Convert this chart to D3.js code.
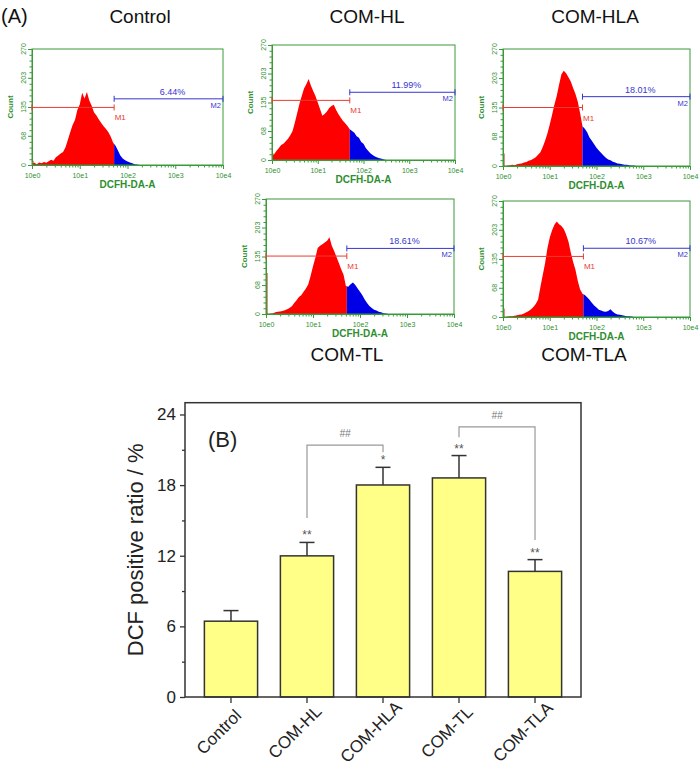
<!DOCTYPE html>
<html><head><meta charset="utf-8">
<script src="https://cdn.jsdelivr.net/npm/d3@7"></script>
<style>
body{margin:0;background:#fff;}
svg{display:block;font-family:"Liberation Sans",Arial,sans-serif;}
</style></head>
<body><svg id="fig" width="700" height="766"></svg>
<script>
// ---------------- DATA: panel (A) flow histograms ----------------
const panelNames = ["Control", "COM-HL", "COM-HLA", "COM-TL", "COM-TLA"];
const positivePct = ["6.44%", "11.99%", "18.01%", "18.61%", "10.67%"];
const gateLog = [1.72, 1.70, 1.70, 1.72, 1.72];     // M1/M2 boundary (log10 of DCFH-DA-A)
const m1Level = [134, 140, 135, 136, 141];           // count level of M1 marker
const m2Level = [154, 159, 160, 154, 160];           // count level of M2 marker
const firstChannel = [10, 15, 29, 96, 20];            // pile-up at 10e0
const binStep = 0.05;                                  // decades per histogram bin
const histControl = [3,5,2,6,4,7,5,9,12,10,18,22,27,30,41,58,76,93,105,128,141,168,155,170,150,138,122,115,106,98,90,84,76,66,52,45,34,22,15,11,8,6,4,2,1,0];
const histHL = [8,14,22,28,35,38,44,50,58,68,88,110,132,150,168,178,190,175,162,150,135,120,104,108,114,122,127,130,118,108,100,92,86,80,72,68,64,56,52,42,38,28,22,16,12,8,6,4,3,1,0];
const histHLA = [1,0,1,2,3,2,4,5,6,8,9,12,14,17,20,26,32,44,58,75,96,118,142,162,188,212,220,214,205,195,180,166,148,122,92,86,78,66,58,50,42,36,30,24,19,15,13,10,8,6,5,4,3,3,2,1,1,0];
const histTL = [2,0,1,2,4,5,6,7,9,11,14,18,26,32,40,44,52,60,70,90,112,132,155,160,164,168,172,180,160,148,134,120,105,92,66,64,70,74,68,60,52,44,34,26,19,14,10,8,5,4,2,1,0];
const histTLA = [1,0,1,2,2,3,4,5,6,8,11,14,18,23,30,40,70,98,125,160,185,202,215,222,216,212,205,192,176,150,128,110,84,64,54,51,46,40,33,27,22,17,15,13,12,14,18,12,8,6,5,4,3,2,2,1,0];
const histograms = [histControl, histHL, histHLA, histTL, histTLA];
const countTicks = [0, 68, 135, 203, 270];
const decadeTicks = [1, 10, 100, 1000, 10000];

// ---------------- DATA: panel (B) bar chart ----------------
const categories = ["Control", "COM-HL", "COM-HLA", "COM-TL", "COM-TLA"];
const dcfMeans = [6.44, 11.99, 18.01, 18.61, 10.67];
const dcfErrors = [0.9, 1.14, 1.5, 1.9, 1.0];
const starMarks = ["", "**", "*", "**", "**"];
const yMajorTicks = [0, 6, 12, 18, 24];
const yMinorTicks = [3, 9, 15, 21];
const bracketFrom = ["COM-HL", "COM-TL"];
const bracketTo = ["COM-HLA", "COM-TLA"];
const bracketTop = [21.4, 22.95];
const bracketLeftEnd = [15.2, 22.07];
const bracketRightEnd = [20.8, 13.33];
const bracketLabel = ["##", "##"];

// ---------------- LAYOUT ----------------
const svg = d3.select("#fig");
const GREEN = "#2f8f2f", GREEN_AX = "#3a9a3a";
const RED_FILL = "#ff0000", BLUE_FILL = "#0000e6";
const RED_MK = "#e83c32", BLUE_MK = "#3636d0";

const boxes = [
  {x0: 32, x1: 223, y0: 49, y1: 165, tx: 140, ty: 23},
  {x0: 272, x1: 455, y0: 45, y1: 160, tx: 367, ty: 23},
  {x0: 503, x1: 690, y0: 49, y1: 166, tx: 595, ty: 23},
  {x0: 266, x1: 454, y0: 199, y1: 314, tx: 347, ty: 361},
  {x0: 503, x1: 690, y0: 201, y1: 317, tx: 584, ty: 361}
];

svg.append("text").attr("x", 1).attr("y", 23).attr("font-size", 20).attr("fill", "#111").text("(A)");

const defs = svg.append("defs");

histograms.forEach((counts, k) => {
  const b = boxes[k];
  const g = svg.append("g");
  const xs = d3.scaleLog().domain([1, 1e4]).range([b.x0, b.x1]);
  const ys = d3.scaleLinear().domain([0, 270]).range([b.y1, b.y0]);
  const gateX = xs(Math.pow(10, gateLog[k]));

  svg.append("text").attr("x", b.tx).attr("y", b.ty).attr("text-anchor", "middle")
    .attr("font-size", 19).attr("fill", "#111").text(panelNames[k]);

  defs.append("clipPath").attr("id", "cr" + k).append("rect")
    .attr("x", b.x0).attr("y", b.y0).attr("width", gateX - b.x0).attr("height", b.y1 - b.y0);
  defs.append("clipPath").attr("id", "cb" + k).append("rect")
    .attr("x", gateX).attr("y", b.y0).attr("width", b.x1 - gateX).attr("height", b.y1 - b.y0);

  const pts = counts.map((c, i) => [Math.pow(10, i * binStep), c]);
  const area = d3.area().x(d => xs(d[0])).y0(ys(0)).y1(d => ys(d[1]));
  g.append("path").datum(pts).attr("d", area).attr("fill", RED_FILL).attr("clip-path", `url(#cr${k})`);
  g.append("path").datum(pts).attr("d", area).attr("fill", BLUE_FILL).attr("clip-path", `url(#cb${k})`);
  g.append("line").attr("x1", xs(1) + 0.8).attr("x2", xs(1) + 0.8)
    .attr("y1", ys(0)).attr("y2", ys(firstChannel[k])).attr("stroke", "#d02010").attr("stroke-width", 1.4);

  g.append("rect").attr("x", b.x0).attr("y", b.y0).attr("width", b.x1 - b.x0).attr("height", b.y1 - b.y0)
    .attr("fill", "none").attr("stroke", GREEN_AX).attr("stroke-width", 1);

  const yMinor = d3.range(0, 270, 13.5).filter(v => !countTicks.some(t => Math.abs(t - v) < 1));
  const ya = g.append("g").attr("transform", `translate(${b.x0},0)`)
    .call(d3.axisLeft(ys).tickValues(countTicks).tickSize(4).tickFormat(""));
  const ym = g.append("g").attr("transform", `translate(${b.x0},0)`)
    .call(d3.axisLeft(ys).tickValues(yMinor).tickSize(2.5).tickFormat(""));
  [ya, ym].forEach(a => { a.select(".domain").attr("stroke", GREEN_AX); a.selectAll(".tick line").attr("stroke", GREEN_AX); });
  countTicks.forEach(v => {
    g.append("text").attr("transform", `translate(${b.x0 - 6},${ys(v)}) rotate(-90)`)
      .attr("text-anchor", "middle").attr("font-size", 7).attr("fill", GREEN).text(v);
  });
  g.append("text").attr("transform", `translate(${b.x0 - 19},${(b.y0 + b.y1) / 2}) rotate(-90)`)
    .attr("text-anchor", "middle").attr("font-size", 8).attr("font-weight", "bold").attr("fill", GREEN).text("Count");

  const xMinor = [];
  [1, 10, 100, 1000].forEach(d => { for (let m = 2; m <= 9; m++) xMinor.push(d * m); });
  const xa = g.append("g").attr("transform", `translate(0,${b.y1})`)
    .call(d3.axisBottom(xs).tickValues(decadeTicks).tickSize(4)
      .tickFormat(d => "10e" + Math.round(Math.log10(d))));
  const xm = g.append("g").attr("transform", `translate(0,${b.y1})`)
    .call(d3.axisBottom(xs).tickValues(xMinor).tickSize(2.5).tickFormat(""));
  [xa, xm].forEach(a => { a.select(".domain").attr("stroke", GREEN_AX); a.selectAll(".tick line").attr("stroke", GREEN_AX); });
  xa.selectAll(".tick text").attr("font-size", 7).attr("fill", GREEN).attr("dy", "0.85em")
    .attr("font-family", "Liberation Sans, Arial, sans-serif");
  g.append("text").attr("x", (b.x0 + b.x1) / 2).attr("y", b.y1 + 23).attr("text-anchor", "middle")
    .attr("font-size", 10).attr("font-weight", "bold").attr("fill", GREEN).text("DCFH-DA-A");

  const yM1 = ys(m1Level[k]), yM2 = ys(m2Level[k]);
  const mk = (xa0, xa1, yy, col) => {
    g.append("line").attr("x1", xa0).attr("x2", xa1).attr("y1", yy).attr("y2", yy).attr("stroke", col).attr("stroke-width", 1);
    [xa0, xa1].forEach(xx => g.append("line").attr("x1", xx).attr("x2", xx).attr("y1", yy - 3).attr("y2", yy + 3)
      .attr("stroke", col).attr("stroke-width", 1));
  };
  mk(xs(1), gateX, yM1, RED_MK);
  mk(gateX, xs(1e4), yM2, BLUE_MK);
  g.append("text").attr("x", gateX + 0.5).attr("y", yM1 + 13).attr("font-size", 8).attr("fill", RED_MK).text("M1");
  g.append("text").attr("x", xs(1e4) - 2).attr("y", yM2 + 9).attr("text-anchor", "end")
    .attr("font-size", 7.5).attr("fill", BLUE_MK).text("M2");
  g.append("text").attr("x", (gateX + xs(1e4)) / 2 + 4).attr("y", yM2 - 4).attr("text-anchor", "middle")
    .attr("font-size", 9).attr("fill", BLUE_MK).text(positivePct[k]);
});

// ---------------- PANEL (B) ----------------
const FL = 185, FR = 581, FB = 697, FT = 402.7;
const x = d3.scaleBand().domain(categories).range([FL, FR]).paddingInner(0.3).paddingOuter(0.255);
const y = d3.scaleLinear().domain([0, 25]).range([FB, FT]);
const gb = svg.append("g");
const AX = "#333";

gb.selectAll("rect.bar").data(categories).join("rect").attr("class", "bar")
  .attr("x", d => x(d)).attr("width", x.bandwidth())
  .attr("y", (d, i) => y(dcfMeans[i])).attr("height", (d, i) => y(0) - y(dcfMeans[i]))
  .attr("fill", "#ffff88").attr("stroke", "#333").attr("stroke-width", 1.5);

categories.forEach((c, i) => {
  const cx = x(c) + x.bandwidth() / 2;
  const top = y(dcfMeans[i] + dcfErrors[i]);
  gb.append("line").attr("x1", cx).attr("x2", cx).attr("y1", y(dcfMeans[i])).attr("y2", top).attr("stroke", "#333").attr("stroke-width", 1.5);
  gb.append("line").attr("x1", cx - 7.5).attr("x2", cx + 7.5).attr("y1", top).attr("y2", top).attr("stroke", "#333").attr("stroke-width", 1.5);
  if (starMarks[i]) {
    gb.append("text").attr("x", cx).attr("y", top - 3).attr("text-anchor", "middle")
      .attr("font-size", 12).attr("fill", "#555").text(starMarks[i]);
  }
});

bracketFrom.forEach((f, j) => {
  const xa0 = x(f) + x.bandwidth() / 2, xa1 = x(bracketTo[j]) + x.bandwidth() / 2;
  const pathD = `M${xa0},${y(bracketLeftEnd[j])}V${y(bracketTop[j])}H${xa1}V${y(bracketRightEnd[j])}`;
  gb.append("path").attr("d", pathD).attr("fill", "none").attr("stroke", "#999").attr("stroke-width", 1.2);
  gb.append("text").attr("x", (xa0 + xa1) / 2).attr("y", y(bracketTop[j]) - 8).attr("text-anchor", "middle")
    .attr("font-size", 10).attr("font-style", "italic").attr("fill", "#777").text(bracketLabel[j]);
});

gb.append("rect").attr("x", FL).attr("y", FT).attr("width", FR - FL).attr("height", FB - FT)
  .attr("fill", "none").attr("stroke", AX).attr("stroke-width", 1.5);

const yaxis = gb.append("g").attr("transform", `translate(${FL},0)`)
  .call(d3.axisLeft(y).tickValues(yMajorTicks).tickSize(5).tickPadding(4));
const yaxis2 = gb.append("g").attr("transform", `translate(${FL},0)`)
  .call(d3.axisLeft(y).tickValues(yMinorTicks).tickSize(3).tickFormat(""));
[yaxis, yaxis2].forEach(a => { a.select(".domain").remove(); a.selectAll(".tick line").attr("stroke", AX).attr("stroke-width", 1.3); });
yaxis.selectAll(".tick text").attr("font-size", 17).attr("fill", "#222").attr("font-family", "Liberation Sans, Arial, sans-serif");

const xaxis = gb.append("g").attr("transform", `translate(0,${FB})`)
  .call(d3.axisBottom(x).tickSize(6).tickFormat(""));
xaxis.select(".domain").remove();
xaxis.selectAll(".tick line").attr("stroke", AX).attr("stroke-width", 1.3);
categories.forEach(c => {
  const cx = x(c) + x.bandwidth() / 2;
  gb.append("text").attr("transform", `translate(${cx - 8},${FB + 39}) rotate(-45)`)
    .attr("text-anchor", "middle").attr("font-size", 17).attr("fill", "#222").text(c);
});

gb.append("text").attr("transform", `translate(${143},${(FT + FB) / 2}) rotate(-90)`)
  .attr("text-anchor", "middle").attr("font-size", 22).attr("fill", "#222").text("DCF positive ratio / %");
gb.append("text").attr("x", 208).attr("y", 447).attr("font-size", 22).attr("fill", "#222").text("(B)");
</script></body></html>
